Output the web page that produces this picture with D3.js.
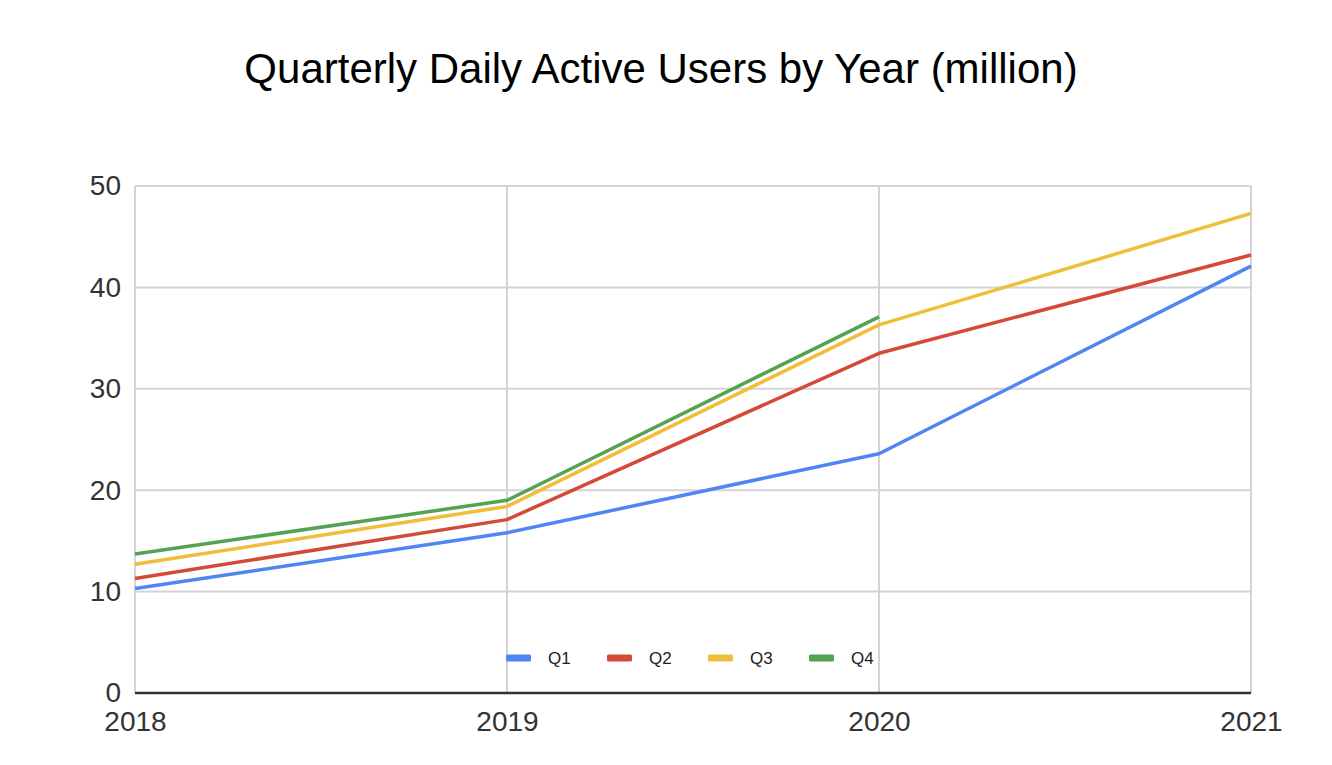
<!DOCTYPE html>
<html><head><meta charset="utf-8">
<script src="https://cdn.jsdelivr.net/npm/d3@7"></script>
<style>html,body{margin:0;padding:0;background:#fff;} svg{display:block;font-family:"Liberation Sans",Arial,sans-serif;}</style>
</head><body>
<svg id="c" width="1332" height="765"></svg>
<script>
const years = [2018, 2019, 2020, 2021];
const q1 = [10.3, 15.8, 23.6, 42.1];
const q2 = [11.3, 17.1, 33.5, 43.2];
const q3 = [12.7, 18.4, 36.3, 47.3];
const q4 = [13.7, 19.0, 37.1, null];
const seriesNames = ["Q1", "Q2", "Q3", "Q4"];
const seriesColors = ["#5085F5", "#D34B38", "#F0BE3A", "#55A352"];
const yTicks = [0, 10, 20, 30, 40, 50];
const title = "Quarterly Daily Active Users by Year (million)";

const svg = d3.select("#c");
const L = 135, R = 1251, T = 186, B = 693;
const x = d3.scalePoint().domain(years).range([L, R]);
const y = d3.scaleLinear().domain([0, 50]).range([B, T]);

svg.append("rect").attr("width", 1332).attr("height", 765).attr("fill", "#fff");

svg.append("text").attr("x", 661).attr("y", 83).attr("text-anchor", "middle")
  .attr("font-size", 42).attr("fill", "#000").text(title);

// horizontal grid
svg.append("g").selectAll("line").data(yTicks).join("line")
  .attr("x1", L).attr("x2", R).attr("y1", d => y(d)).attr("y2", d => y(d))
  .attr("stroke", "#d4d4d4").attr("stroke-width", 2);
// vertical grid
svg.append("g").selectAll("line").data(years).join("line")
  .attr("x1", d => x(d)).attr("x2", d => x(d)).attr("y1", T).attr("y2", B)
  .attr("stroke", "#d4d4d4").attr("stroke-width", 2);

// y axis labels
const yAxis = d3.axisLeft(y).tickValues(yTicks).tickSize(0).tickPadding(14);
const gy = svg.append("g").attr("transform", `translate(${L},0)`).call(yAxis);
gy.select(".domain").remove();
gy.selectAll("text").attr("font-size", 28).attr("fill", "#333").attr("font-family", "Liberation Sans, Arial, sans-serif");

// x axis labels
const xAxis = d3.axisBottom(x).tickSize(0).tickPadding(18);
const gx = svg.append("g").attr("transform", `translate(0,${B})`).call(xAxis);
gx.select(".domain").remove();
gx.selectAll("text").attr("font-size", 28).attr("fill", "#333").attr("font-family", "Liberation Sans, Arial, sans-serif");

// baseline
svg.append("line").attr("x1", L).attr("x2", R).attr("y1", B).attr("y2", B)
  .attr("stroke", "#333").attr("stroke-width", 2.5);

const all = [q1, q2, q3, q4];
const line = d3.line().defined(d => d.v != null).x(d => x(d.yr)).y(d => y(d.v));
all.forEach((s, i) => {
  svg.append("path")
    .datum(s.map((v, j) => ({yr: years[j], v})))
    .attr("fill", "none").attr("stroke", seriesColors[i]).attr("stroke-width", 3.5)
    .attr("stroke-linejoin", "round")
    .attr("d", line);
});

// legend
const lg = svg.append("g").attr("transform", "translate(506,658)");
seriesNames.forEach((n, i) => {
  const g = lg.append("g").attr("transform", `translate(${i * 101},0)`);
  g.append("rect").attr("x", 0).attr("y", -3.5).attr("width", 25).attr("height", 7).attr("rx", 1.5).attr("fill", seriesColors[i]);
  g.append("text").attr("x", 42).attr("y", 6).attr("font-size", 17).attr("fill", "#222").text(n);
});
</script>
</body></html>
